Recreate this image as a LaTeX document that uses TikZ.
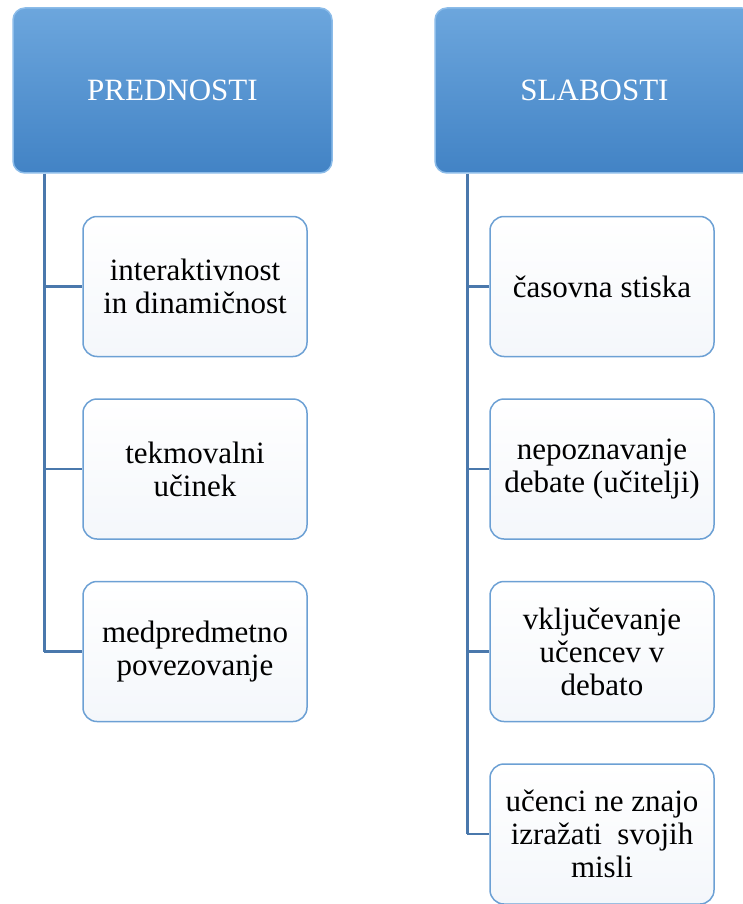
\documentclass[tikz,border=0pt]{standalone}
\usepackage{fontspec}
\setmainfont{Liberation Serif}
\usepackage{tikz}
\usetikzlibrary{positioning}

\definecolor{headtop}{RGB}{108,166,221}
\definecolor{headbot}{RGB}{66,131,197}
\definecolor{headrim}{RGB}{140,188,233}
\definecolor{boxrim}{RGB}{108,160,212}
\definecolor{boxbot}{RGB}{244,247,251}
\definecolor{linkblue}{RGB}{74,120,172}

\tikzset{
    head/.style={rounded corners=12pt, top color=headtop, bottom color=headbot,
        draw=headrim, line width=1.5pt, minimum width=319pt, minimum height=165pt,
        inner sep=0pt, text=white, font=\fontsize{31}{33}\selectfont},
    item/.style={rounded corners=14pt, top color=white, bottom color=boxbot,
        draw=boxrim, line width=1.5pt, minimum width=224pt, minimum height=140pt,
        inner sep=0pt, align=center, font=\fontsize{31}{33}\selectfont},
    link/.style={draw=linkblue, line width=2.5pt}
}

\begin{document}
\begin{tikzpicture}[x=1pt, y=-1pt]
    \useasboundingbox (0,0) rectangle (743,904);

    \node[head] (pred) at (172.5,90.5) {PREDNOSTI};
    \node[head] (slab) at (594.5,90.5) {SLABOSTI};

    \node[item, below right=42pt and 70pt of pred.south west] (p1) {interaktivnost\\in dinamičnost};
    \node[item, below=41pt of p1] (p2) {tekmovalni\\učinek};
    \node[item, below=41pt of p2] (p3) {medpredmetno\\povezovanje};

    \node[item, below right=42pt and 55pt of slab.south west] (s1) {časovna stiska};
    \node[item, below=41pt of s1] (s2) {nepoznavanje\\debate (učitelji)};
    \node[item, below=41pt of s2] (s3) {vključevanje\\učencev v\\debato};
    \node[item, below=41pt of s3] (s4) {učenci ne znajo\\izražati \ svojih\\misli};

    \coordinate (pa) at ([xshift=32pt]pred.south west);
    \coordinate (sa) at ([xshift=33pt]slab.south west);

    \draw[link] (pa) -- (pa |- p3.west);
    \foreach \n in {p1,p2,p3}
        \draw[link] (pa |- \n.west) -- (\n.west);
    \draw[link] (sa) -- (sa |- s4.west);
    \foreach \n in {s1,s2,s3,s4}
        \draw[link] (sa |- \n.west) -- (\n.west);
\end{tikzpicture}
\end{document}
